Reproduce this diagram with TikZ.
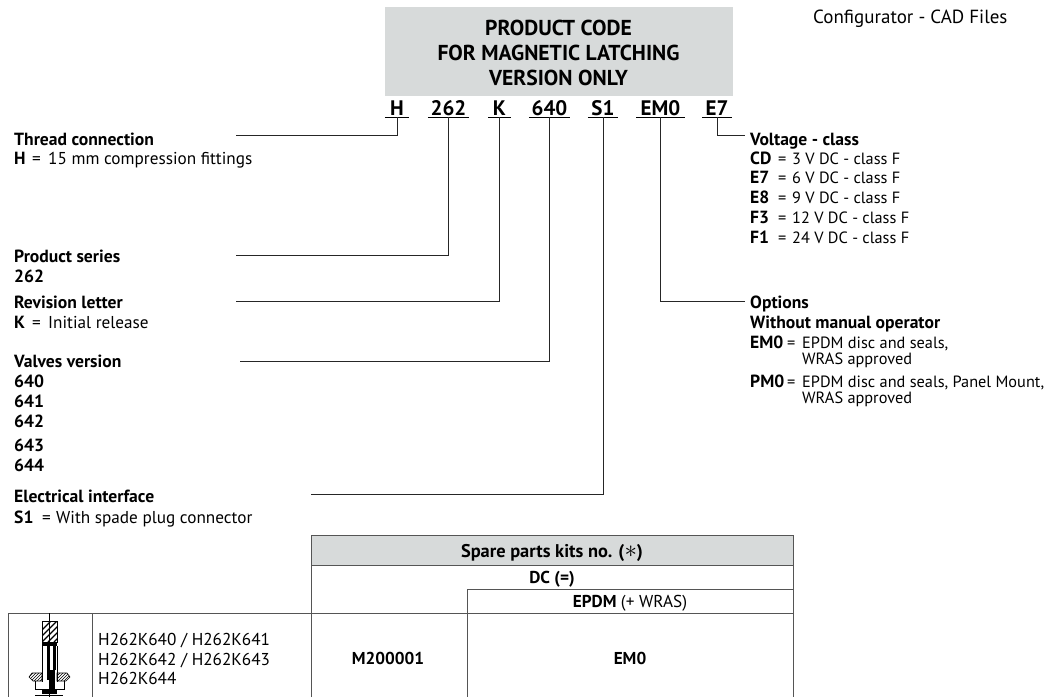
\documentclass[tikz,border=0pt]{standalone}
\usepackage{fontspec}
\usetikzlibrary{patterns}
\setmainfont{PT Sans}
\definecolor{boxgrey}{HTML}{D7DADA}
\definecolor{rulegrey}{HTML}{555555}
\tikzset{
  lab/.style={anchor=base west,inner sep=0pt,font=\fontsize{17.2}{20}\selectfont},
  rlab/.style={anchor=base west,inner sep=0pt,font=\fontsize{16.3}{20}\selectfont},
  blab/.style={lab,font=\fontsize{17.6}{20}\selectfont\bfseries},
  headlab/.style={anchor=base,inner sep=0pt,font=\fontsize{21.6}{24}\selectfont\bfseries},
  codelab/.style={anchor=base,inner xsep=0pt,inner ysep=1.5pt,font=\fontsize{21}{24}\selectfont\bfseries},
  celllab/.style={anchor=base,inner sep=0pt,font=\fontsize{17.2}{20}\selectfont\bfseries},
  leader/.style={line width=0.9pt,black!85},
  under/.style={line width=1.3pt,black},
  grid/.style={line width=0.8pt,rulegrey}
}
\begin{document}
\begin{tikzpicture}[x=1pt,y=-1pt]
  \useasboundingbox (0,0) rectangle (1047,697);

  %%%%%%%%%%%%%%%%%%%%%% HEADER %%%%%%%%%%%%%%%%%%%%%%
  \fill[boxgrey] (385,7) rectangle (733,96);
  \node[headlab](head_1) at (558.5,35) {PRODUCT CODE};
  \node[headlab](head_2) at (558.5,60) {FOR MAGNETIC LATCHING};
  \node[headlab](head_3) at (558.5,85) {VERSION ONLY};
  \node[lab,font=\fontsize{19}{22}\selectfont](cad) at (813,23.5) {Configurator - CAD Files};

  %%%%%%%%%%%%%%%%%%%%%% CODE %%%%%%%%%%%%%%%%%%%%%%
  \node[codelab,minimum width=24pt](cd_H) at (397,115.5) {H};
  \node[codelab,minimum width=41pt](cd_262) at (448.5,115.5) {262};
  \node[codelab,minimum width=22pt](cd_K) at (499.5,115.5) {K};
  \node[codelab,minimum width=41pt](cd_640) at (549.5,115.5) {640};
  \node[codelab,minimum width=30pt](cd_S1) at (603,115.5) {S1};
  \node[codelab,minimum width=48pt](cd_EM0) at (660.5,115.5) {EM0};
  \node[codelab,minimum width=30pt](cd_E7) at (717,115.5) {E7};

  \foreach \codeA in {cd_H,cd_262,cd_K,cd_640,cd_S1,cd_EM0,cd_E7}
    \draw[under] (\codeA.south west) -- (\codeA.south east);

  \coordinate (end_H) at (236,135);
  \coordinate (end_262) at (236,255);
  \coordinate (end_K) at (236,301.5);
  \coordinate (end_640) at (240,361);
  \coordinate (end_S1) at (311,494);
  \coordinate (end_EM0) at (745,301);
  \coordinate (end_E7) at (745,135);

  \foreach \fromcd/\toend in {cd_H/end_H,cd_262/end_262,cd_K/end_K,cd_640/end_640,cd_S1/end_S1,cd_EM0/end_EM0,cd_E7/end_E7}
    \draw[leader] (\fromcd.south) |- (\toend);

  %%%%%%%%%%%%%%%%%%%%%% LEFT LABELS %%%%%%%%%%%%%%%%%%%%%%
  \node[blab](th_1) at (14,145) {Thread connection};
  \node[blab](th_2) at (14,164) {H};
  \node[lab](th_3) at (32,164) {=};
  \node[lab](th_4) at (48,164) {15 mm compression fittings};

  \node[blab](ps_1) at (14,262) {Product series};
  \node[blab](ps_2) at (14,282) {262};

  \node[blab](rv_1) at (14,308) {Revision letter};
  \node[blab](rv_2) at (14,328) {K};
  \node[lab](rv_3) at (32,328) {=};
  \node[lab](rv_4) at (48,328) {Initial release};

  \node[blab](vv_1) at (14,367) {Valves version};
  \node[blab](vv_2) at (14,387) {640};
  \node[blab](vv_3) at (14,407) {641};
  \node[blab](vv_4) at (14,427) {642};
  \node[blab](vv_5) at (14,451) {643};
  \node[blab](vv_6) at (14,471) {644};

  \node[blab](el_1) at (14,502) {Electrical interface};
  \node[blab](el_2) at (14,523) {S1};
  \node[lab](el_3) at (42,523) {=};
  \node[lab](el_4) at (56,523) {With spade plug connector};

  %%%%%%%%%%%%%%%%%%%%%% RIGHT LABELS %%%%%%%%%%%%%%%%%%%%%%
  \node[blab](vc_0) at (750,145) {Voltage - class};
  \node[blab](vc_1) at (750,164) {CD};
  \node[blab](vc_2) at (750,183) {E7};
  \node[blab](vc_3) at (750,203) {E8};
  \node[blab](vc_4) at (750,223) {F3};
  \node[blab](vc_5) at (750,243) {F1};
  \foreach \rowy/\rowtxt/\rowname in {164/3 V DC - class F/1,183/6 V DC - class F/2,203/9 V DC - class F/3,223/12 V DC - class F/4,243/24 V DC - class F/5}{
    \node[rlab](vq_\rowname) at (778,\rowy) {=};
    \node[rlab](vt_\rowname) at (792,\rowy) {\rowtxt};
  }

  \node[blab](op_1) at (750,308) {Options};
  \node[blab](op_2) at (750,328) {Without manual operator};
  \node[blab](op_3) at (750,348) {EM0};
  \node[rlab](op_4) at (787,348) {=};
  \node[rlab](op_5) at (802,348) {EPDM disc and seals,};
  \node[rlab](op_6) at (802,364) {WRAS approved};
  \node[blab](op_7) at (750,387) {PM0};
  \node[rlab](op_8) at (787,387) {=};
  \node[rlab](op_9) at (802,387) {EPDM disc and seals, Panel Mount,};
  \node[rlab](op_10) at (802,403) {WRAS approved};

  %%%%%%%%%%%%%%%%%%%%%% TABLE %%%%%%%%%%%%%%%%%%%%%%
  \fill[boxgrey] (311,535) rectangle (793,565);
  \draw[grid] (311,697) -- (311,535) -- (793,535) -- (793,697);
  \draw[grid] (311,565) -- (793,565);
  \draw[grid] (467,589) -- (793,589);
  \draw[grid] (8,613) -- (793,613);
  \draw[grid] (467,589) -- (467,697);
  \draw[grid] (8,613) -- (8,697);
  \draw[grid] (92,613) -- (92,697);

  \node[celllab,font=\fontsize{18.4}{20}\selectfont\bfseries](tb_1) at (552,557) {Spare parts kits no. ({\fontsize{24}{24}\selectfont$\ast$})};
  \node[celllab](tb_2) at (552,583) {DC (=)};
  \node[celllab](tb_3) at (630,607) {EPDM \textmd{(+ WRAS)}};
  \node[celllab](tb_4) at (388,664) {M200001};
  \node[celllab](tb_5) at (630,664) {EM0};
  \node[lab](tb_6) at (98,645) {H262K640 / H262K641};
  \node[lab](tb_7) at (98,665) {H262K642 / H262K643};
  \node[lab](tb_8) at (98,684) {H262K644};

  %%%%%%%%%%%%%%%%%%%%%% VALVE SECTION %%%%%%%%%%%%%%%%%%%%%%
  \draw[line width=0.7pt] (49,613) -- (49,697);
  \begin{scope}
    \clip (42,621) rectangle (57,642);
    \foreach \hatchx in {30,36,...,78}
      \draw[line width=1.3pt] (\hatchx,642) -- (\hatchx+21,621);
  \end{scope}
  \draw[line width=1pt] (42,621) rectangle (57,642);
  \fill (42,642) rectangle (57,646);
  \draw[line width=1pt] (42.5,646) -- (42.5,682) (57,646) -- (57,682);
  \fill (47,646) rectangle (49.5,680);
  \fill (53,646) rectangle (56,670);
  \fill (49,670) rectangle (55,690);
  \draw[pattern=north east lines,line width=0.6pt] (42,673) -- (32,673) -- (29,677) -- (33,681) -- (42,681) -- cycle;
  \draw[pattern=north east lines,line width=0.6pt] (57,673) -- (67,673) -- (70,677) -- (66,681) -- (57,681) -- cycle;
  \draw[line width=0.8pt] (35,681) -- (35,689) -- (42,689) (64,681) -- (64,689) -- (57,689);
  \fill (42,689) rectangle (57,694);
  \draw[line width=0.6pt] (35,695.5) -- (63,695.5);
\end{tikzpicture}
\end{document}
